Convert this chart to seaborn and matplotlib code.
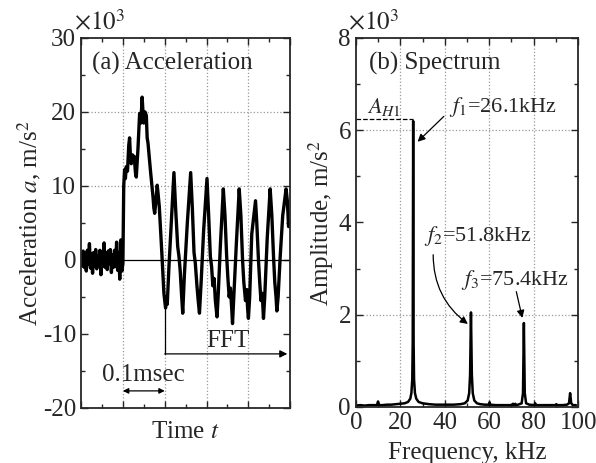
import numpy as np
import pandas as pd
import seaborn as sns
import matplotlib.pyplot as plt
from matplotlib.ticker import MultipleLocator, NullFormatter

# ---- (a) acceleration, time in units of 0.1 ms, acceleration in 10^3 m/s^2
noise_t = [0.000, 0.025, 0.050, 0.075, 0.100, 0.125, 0.150, 0.175, 0.200, 0.225,
           0.250, 0.275, 0.300, 0.325, 0.350, 0.375, 0.400, 0.425, 0.450, 0.475,
           0.500, 0.525, 0.550, 0.575, 0.600, 0.625, 0.650, 0.675, 0.700, 0.725,
           0.750, 0.775, 0.800, 0.825, 0.850, 0.875, 0.900, 0.925, 0.950, 0.975]
noise_a = [0.5, -0.8, 1.2, -1.0, 0.9, -1.5, 1.3, -0.6, 2.2, -1.1,
           0.8, -1.8, 1.0, -0.9, 1.4, -1.2, 0.6, -0.7, 1.3, -2.0,
           1.1, -0.8, 2.3, -1.0, 0.9, -1.3, 1.2, -0.5, 1.4, -1.7,
           0.7, -1.0, 1.3, -0.9, 2.4, -1.4, 1.0, -2.6, 2.7, -1.5]

wave_t = [1.00, 1.02, 1.04, 1.06, 1.08, 1.11, 1.14, 1.16, 1.18, 1.20, 1.23, 1.25, 1.27,
          1.30, 1.32, 1.36, 1.40, 1.43, 1.46, 1.48, 1.50, 1.53, 1.56, 1.58, 1.60, 1.66,
          1.72, 1.74, 1.76, 1.79, 1.82, 1.84, 1.87, 1.93, 1.98, 2.02, 2.04, 2.06, 2.10,
          2.16, 2.22, 2.26, 2.31, 2.34, 2.37, 2.40, 2.43, 2.47, 2.54, 2.62, 2.66, 2.70,
          2.73, 2.77, 2.80, 2.83, 2.87, 2.93, 3.01, 3.05, 3.09, 3.12, 3.15, 3.18, 3.21,
          3.25, 3.28, 3.33, 3.40, 3.44, 3.48, 3.51, 3.54, 3.57, 3.60, 3.62, 3.65, 3.71,
          3.78, 3.82, 3.86, 3.89, 3.93, 3.96, 3.98, 4.00, 4.03, 4.08, 4.12, 4.14, 4.17,
          4.20, 4.24, 4.27, 4.30, 4.33, 4.36, 4.39, 4.45, 4.52, 4.56, 4.60, 4.63, 4.66,
          4.68, 4.71, 4.76, 4.82, 4.90, 4.93, 4.96, 5.00]
wave_a = [-0.5, 10.0, 12.2, 11.0, 12.6, 12.0, 15.5, 16.5, 14.0, 13.0, 14.2, 13.5, 14.0,
          11.8, 11.2, 15.0, 19.8, 18.5, 22.0, 20.0, 18.5, 20.0, 19.5, 16.5, 15.8, 12.0,
          8.5, 7.0, 6.3, 8.0, 10.1, 9.0, 7.2, 1.0, -4.5, -6.5, -5.0, -6.0, -1.0,
          5.5, 11.8, 7.0, 1.8, 0.5, -1.5, -4.5, -7.2, -2.0, 5.0, 11.8, 7.0, 1.0,
          -0.4, -3.5, -5.5, -7.2, -3.0, 4.0, 11.0, 6.0, 0.5, -0.9, -3.5, -2.5, -5.5,
          -7.7, -4.5, 2.0, 9.6, 6.0, 0.5, -2.5, -5.0, -3.8, -6.5, -8.6, -5.0, 2.0,
          9.6, 6.0, 0.0, -3.0, -5.5, -4.0, -6.5, -7.9, -5.0, 3.5, 5.5, 6.5, 8.0,
          5.0, 0.0, -3.0, -5.5, -4.5, -7.9, -5.0, 3.0, 9.6, 6.0, 0.5, -3.0, -5.0,
          -6.9, -5.0, 0.5, 6.0, 9.6, 8.0, 4.5, 5.0]

# ---- (b) spectrum, frequency in kHz, amplitude in 10^3 m/s^2
freq = [0, 2, 4, 6, 8, 9.5, 10, 10.5, 12, 14, 16, 18, 20, 22, 23.5, 24.5, 25.0, 25.4,
        25.6, 25.8, 26.0, 26.2, 26.6, 27.2, 28.2, 30, 33, 36, 40, 44, 47, 49, 50.3,
        51.0, 51.4, 51.8, 52.2, 52.6, 53.3, 54.5, 56, 58, 60, 60.2, 60.4, 63, 66, 69,
        70.5, 70.7, 70.9, 71.5, 71.7, 71.9, 73, 74.6, 75.2, 75.6, 76.0, 76.6, 78, 80.5,
        80.7, 80.9, 84, 88, 90, 90.2, 90.4, 93, 95, 95.9, 96.4, 96.9, 97.6, 99]
amp = [0.03, 0.04, 0.03, 0.04, 0.04, 0.04, 0.12, 0.04, 0.04, 0.05, 0.05, 0.06, 0.07, 0.08, 0.11, 0.18, 0.3, 0.6,
       1.4, 6.2, 1.4, 0.6, 0.3, 0.18, 0.11, 0.08, 0.06, 0.05, 0.05, 0.05, 0.06, 0.08, 0.14,
       0.3, 0.7, 2.05, 0.7, 0.3, 0.14, 0.08, 0.06, 0.05, 0.05, 0.1, 0.05, 0.04, 0.04, 0.04,
       0.04, 0.07, 0.04, 0.04, 0.07, 0.04, 0.05, 0.08, 0.3, 1.82, 0.3, 0.08, 0.05, 0.04,
       0.08, 0.04, 0.04, 0.04, 0.04, 0.06, 0.04, 0.04, 0.05, 0.08, 0.3, 0.08, 0.04, 0.04]

df_a = pd.DataFrame({'t': noise_t + wave_t, 'a': noise_a + wave_a})
df_b = pd.DataFrame({'f': freq, 'A': amp})

sns.set_style('ticks')
plt.rcParams['font.family'] = ['Liberation Serif', 'DejaVu Serif']
plt.rcParams['mathtext.fontset'] = 'stix'
plt.rcParams['axes.unicode_minus'] = False
plt.rcParams['font.size'] = 18

FS = 18
fig = plt.figure(figsize=(5.96, 4.63), dpi=100)
ax1 = fig.add_axes([0.136, 0.119, 0.351, 0.799])
ax2 = fig.add_axes([0.597, 0.121, 0.373, 0.797])

grid_kw = dict(color='#999999', linestyle=':', linewidth=0.9)
arrow_kw = dict(arrowstyle='-|>', color='black', linewidth=0.9, mutation_scale=11,
                shrinkA=0, shrinkB=0)

# 左图：加速度
sns.lineplot(data=df_a, x='t', y='a', ax=ax1, color='black', linewidth=2.4,
             sort=False, estimator=None)
ax1.set_xlim(0, 5)
ax1.set_ylim(-20, 30)
for t in [1, 2, 3, 4]:
    ax1.axvline(t, zorder=0, **grid_kw)
for y in [10, 20]:
    ax1.axhline(y, zorder=0, **grid_kw)
ax1.axhline(0, color='black', linewidth=0.9, zorder=1)
ax1.xaxis.set_major_locator(MultipleLocator(1))
ax1.xaxis.set_minor_locator(MultipleLocator(0.5))
ax1.xaxis.set_major_formatter(NullFormatter())
ax1.yaxis.set_major_locator(MultipleLocator(10))
ax1.yaxis.set_minor_locator(MultipleLocator(5))
ax1.set_xlabel('Time $t$', fontsize=FS, labelpad=6)
ax1.set_ylabel('Acceleration $a$, m/s$^2$', fontsize=FS, labelpad=0)
ax1.text(0.05, 0.93, '(a) Acceleration', transform=ax1.transAxes, fontsize=FS, va='center')
ax1.text(-0.035, 1.008, r'$\times10^3$', transform=ax1.transAxes, fontsize=FS,
         ha='left', va='bottom')
# FFT range and 0.1 msec marker
ax1.plot([2, 2], [-5, -12.7], color='black', linewidth=0.9)
ax1.annotate('', xy=(4.93, -12.7), xytext=(2, -12.7), arrowprops=arrow_kw)
ax1.text(3.5, -10.9, 'FFT', fontsize=FS, ha='center', va='center')
ax1.annotate('', xy=(2, -17.7), xytext=(1, -17.7),
             arrowprops=dict(arrowstyle='<|-|>', color='black', linewidth=0.9, mutation_scale=8,
                             shrinkA=0, shrinkB=0))
ax1.text(1.5, -15.6, '0.1msec', fontsize=FS, ha='center', va='center')

# 右图：频谱
sns.lineplot(data=df_b, x='f', y='A', ax=ax2, color='black', linewidth=1.8,
             sort=False, estimator=None)
ax2.set_xlim(0, 100)
ax2.set_ylim(0, 8)
for f in [20, 40, 60, 80]:
    ax2.axvline(f, zorder=0, **grid_kw)
for y in [2, 6]:
    ax2.axhline(y, zorder=0, **grid_kw)
ax2.xaxis.set_major_locator(MultipleLocator(20))
ax2.xaxis.set_minor_locator(MultipleLocator(10))
ax2.yaxis.set_major_locator(MultipleLocator(2))
ax2.yaxis.set_minor_locator(MultipleLocator(1))
ax2.set_xlabel('Frequency, kHz', fontsize=FS, labelpad=6)
ax2.set_ylabel('Amplitude, m/s$^2$', fontsize=FS, labelpad=2)
ax2.text(0.06, 0.93, '(b) Spectrum', transform=ax2.transAxes, fontsize=FS, va='center')
ax2.text(-0.035, 1.008, r'$\times10^3$', transform=ax2.transAxes, fontsize=FS,
         ha='left', va='bottom')
ax2.plot([0, 25.8], [6.25, 6.25], color='black', linestyle='--', linewidth=0.9)
ax2.text(5.0, 6.5, r'$A_{H\mathrm{1}}$', fontsize=16, va='center')

ax2.text(42, 6.5, r'$f_1$=26.1kHz', fontsize=16, va='center')
ax2.annotate('', xy=(27.8, 5.75), xytext=(39.6, 6.3), arrowprops=arrow_kw)
ax2.text(30.5, 3.7, r'$f_2$=51.8kHz', fontsize=16, va='center')
ax2.annotate('', xy=(50.4, 1.8), xytext=(34.8, 3.3),
             arrowprops=dict(arrow_kw, connectionstyle='arc3,rad=0.25'))
ax2.text(47.5, 2.75, r'$f_3$=75.4kHz', fontsize=16, va='center')
ax2.annotate('', xy=(74.9, 1.93), xytext=(72.2, 2.5), arrowprops=arrow_kw)

for ax in (ax1, ax2):
    for s in ax.spines.values():
        s.set_linewidth(1.3)
        s.set_visible(True)
    ax.tick_params(which='both', direction='in', top=True, right=True, labelsize=FS, width=1.0)
    ax.tick_params(which='major', length=5)
    ax.tick_params(which='minor', length=3)

fig.savefig('out.png', dpi=100)
